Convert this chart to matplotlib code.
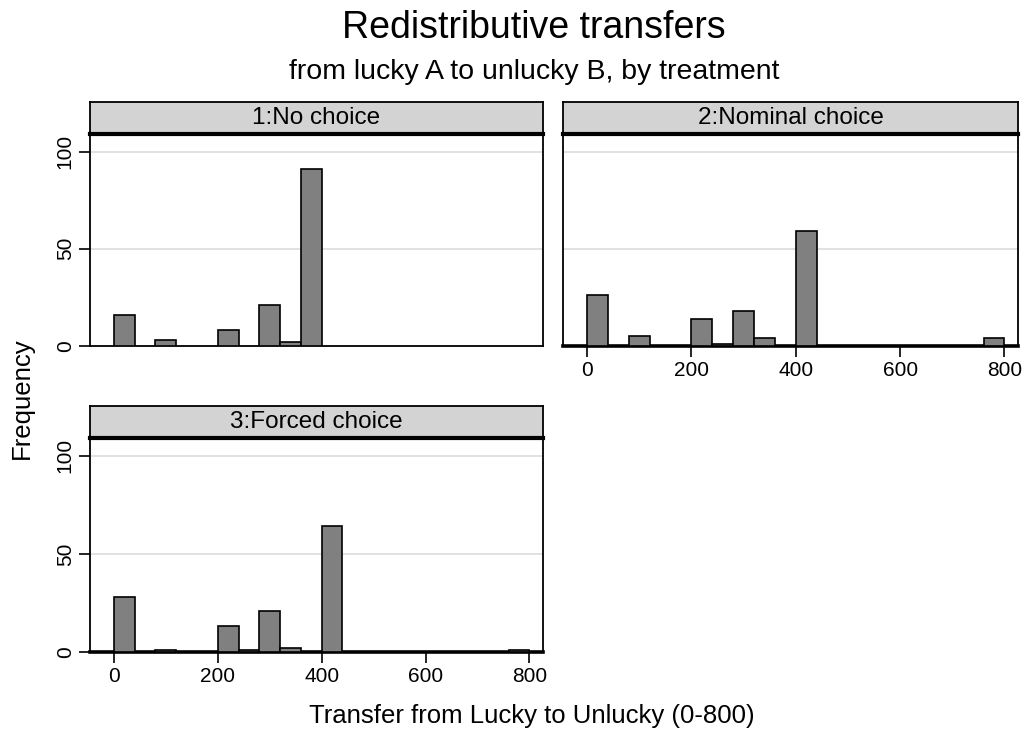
import numpy as np
import matplotlib.pyplot as plt

plt.rcParams['font.family'] = ['Liberation Sans', 'DejaVu Sans']

bin_width = 40
panel_titles = ['1:No choice', '2:Nominal choice', '3:Forced choice']

# left edges of the bins and the counts
p1_bins = [0, 80, 200, 280, 320, 360]
p1_counts = [16, 3, 8, 21, 2, 91]

p2_bins = [0, 80, 200, 240, 280, 320, 400, 760]
p2_counts = [26, 5, 14, 1, 18, 4, 59, 4]

p3_bins = [0, 80, 200, 240, 280, 320, 400, 760]
p3_counts = [28, 1, 13, 1, 21, 2, 64, 1]

x_ticks = [0, 200, 400, 600, 800]
y_ticks = [0, 50, 100]

W, H = 1025, 730
fig = plt.figure(figsize=(W / 100, H / 100), dpi=100)


def box(left, top, right, bottom):
    return [left / W, 1 - bottom / H, (right - left) / W, (bottom - top) / H]


def panel(rect, strip_rect, title, bins, counts, show_x, show_y):
    ax = fig.add_axes(box(*rect))
    ax.bar(bins, counts, width=bin_width, align='edge', color='#808080',
           edgecolor='black', linewidth=1.2, zorder=3)
    ax.set_xlim(-46, 826)
    ax.set_ylim(0, 109)
    for y in [50, 100]:
        ax.axhline(y, color='#dcdcdc', linewidth=1.2, zorder=1)
    ax.spines['top'].set_visible(False)
    for s in ['left', 'right', 'bottom']:
        ax.spines[s].set_linewidth(1.3)
    if show_x:
        ax.spines['bottom'].set_linewidth(2.6)
        ax.set_xticks(x_ticks)
        ax.tick_params(axis='x', length=8, width=1.2, labelsize=15, pad=3)
    else:
        ax.set_xticks([])
    if show_y:
        ax.set_yticks(y_ticks)
        ax.set_yticklabels([str(v) for v in y_ticks], rotation=90, va='center')
        ax.tick_params(axis='y', length=8, width=1.2, labelsize=15, pad=3)
    else:
        ax.set_yticks([])

    sax = fig.add_axes(box(*strip_rect))
    sax.set_facecolor('#d3d3d3')
    sax.set_xticks([])
    sax.set_yticks([])
    for s in sax.spines.values():
        s.set_linewidth(1.3)
    sax.spines['bottom'].set_linewidth(3)
    sax.text(0.5, 0.5, title, ha='center', va='center', fontsize=17.5,
             transform=sax.transAxes)
    return ax


panel((90, 134, 543, 346), (90, 102, 543, 134), panel_titles[0],
      p1_bins, p1_counts, False, True)
panel((563, 134, 1018, 346), (563, 102, 1018, 134), panel_titles[1],
      p2_bins, p2_counts, True, False)
panel((90, 438, 543, 652), (90, 406, 543, 438), panel_titles[2],
      p3_bins, p3_counts, True, True)

fig.text(534 / W, 1 - 28 / H, 'Redistributive transfers', ha='center',
         va='center', fontsize=27)
fig.text(534 / W, 1 - 72 / H, 'from lucky A to unlucky B, by treatment',
         ha='center', va='center', fontsize=20.5)
fig.text(532 / W, 1 - 716 / H, 'Transfer from Lucky to Unlucky (0-800)',
         ha='center', va='center', fontsize=18.5)
fig.text(22 / W, 1 - 398 / H, 'Frequency', ha='center', va='center',
         rotation=90, fontsize=18.5)

fig.savefig('out.png', dpi=100, facecolor='white')
